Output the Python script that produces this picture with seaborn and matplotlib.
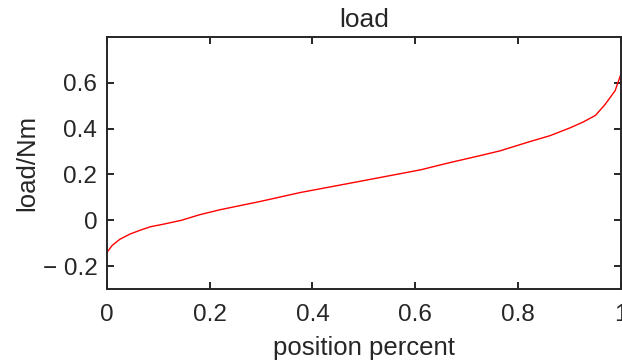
import matplotlib
matplotlib.use("Agg")
import matplotlib.pyplot as plt
import seaborn as sns
import pandas as pd

position = [0, 0.01, 0.025, 0.045, 0.065, 0.085, 0.11, 0.145, 0.18, 0.22, 0.3, 0.376,
            0.49, 0.61, 0.668, 0.726, 0.765, 0.824, 0.862, 0.901, 0.927, 0.951, 0.969,
            0.989, 1.0]
load = [-0.14, -0.11, -0.083, -0.06, -0.043, -0.028, -0.017, 0.0, 0.024, 0.046, 0.083, 0.121,
        0.169, 0.22, 0.252, 0.282, 0.303, 0.344, 0.369, 0.403, 0.429, 0.458, 0.504,
        0.565, 0.635]
xticks = [0, 0.2, 0.4, 0.6, 0.8, 1.0]
xticklabels = ["0", "0.2", "0.4", "0.6", "0.8", "1"]
yticks = [-0.2, 0, 0.2, 0.4, 0.6]
yticklabels = ["\u2212 0.2", "0", "0.2", "0.4", "0.6"]

sns.set_theme(style="ticks")
dark = "#262626"
plt.rcParams.update({
    "font.family": ["Liberation Sans", "DejaVu Sans"],
    "axes.edgecolor": dark,
    "axes.linewidth": 1.4,
    "xtick.color": dark, "ytick.color": dark,
    "text.color": dark, "axes.labelcolor": dark,
})

fig = plt.figure(figsize=(6.22, 3.64), dpi=100)
ax = fig.add_axes([107 / 622, 75 / 364, (620.7 - 107) / 622, (289 - 37) / 364])
df = pd.DataFrame({"position": position, "load": load})
sns.lineplot(data=df, x="position", y="load", color="#ff0000", linewidth=1.0, ax=ax)
ax.set_xlim(0, 1)
ax.set_ylim(-0.3, 0.8)
ax.set_xticks(xticks)
ax.set_xticklabels(xticklabels)
ax.set_yticks(yticks)
ax.set_yticklabels(yticklabels)
ax.tick_params(direction="in", length=5, width=1.4, labelsize=17.5, top=True, right=True, pad=7)
ax.tick_params(axis="x", pad=11)
ax.set_xlabel("position percent", fontsize=18.5, labelpad=7)
ax.set_ylabel("load/Nm", fontsize=18.5, labelpad=2)
ax.set_title("load", fontsize=19, pad=7)
for s in ax.spines.values():
    s.set_visible(True)
fig.savefig("out.png", dpi=100)
